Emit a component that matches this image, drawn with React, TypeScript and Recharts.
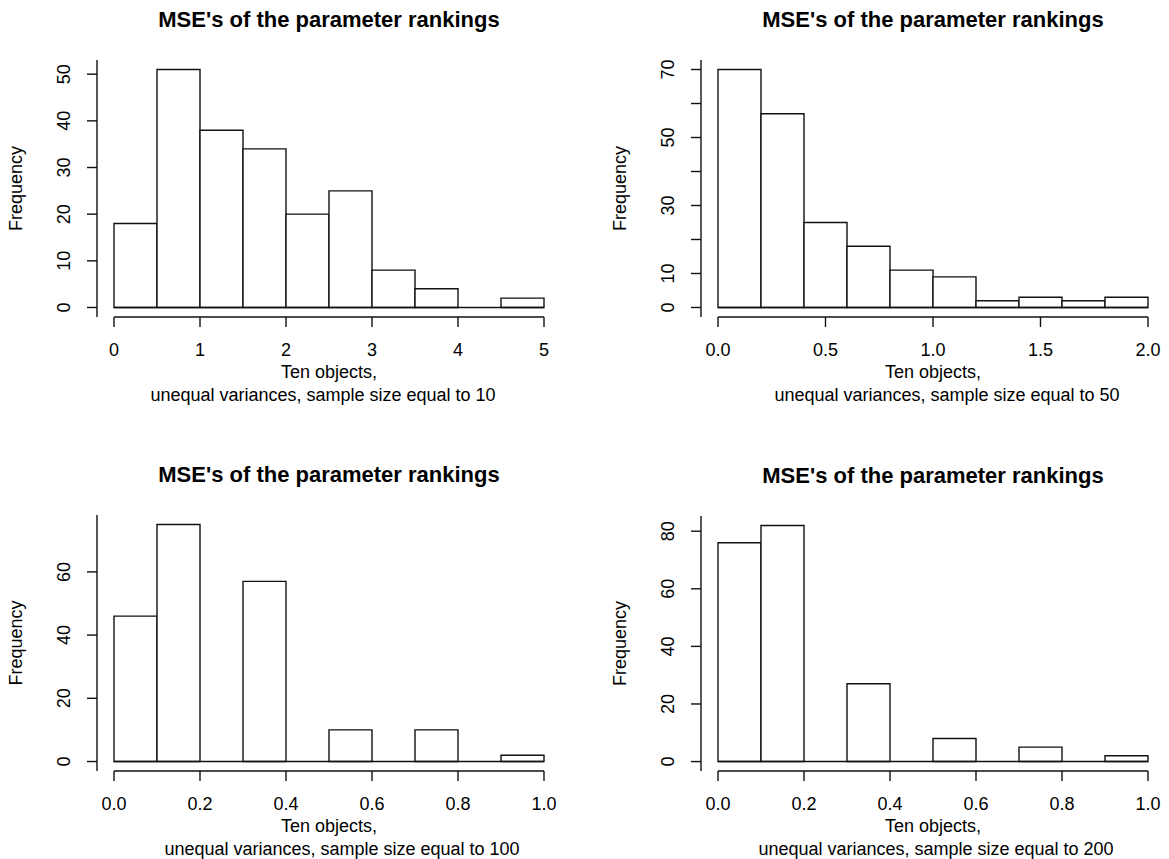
import React from 'react';
import { ComposedChart, Bar, XAxis, YAxis, ReferenceLine } from 'recharts';

const FONT = '"Liberation Sans", Arial, Helvetica, sans-serif';
const INK = '#111';
const LINE_W = 1.4;

// histogram bins: edges, counts, axis ticks for each sample size
const edgesN10 = [0, 0.5, 1, 1.5, 2, 2.5, 3, 3.5, 4, 4.5, 5];
const countsN10 = [18, 51, 38, 34, 20, 25, 8, 4, 0, 2];
const xTicksN10 = [0, 1, 2, 3, 4, 5];
const yTicksN10 = [0, 10, 20, 30, 40, 50];

const edgesN50 = [0, 0.2, 0.4, 0.6, 0.8, 1, 1.2, 1.4, 1.6, 1.8, 2];
const countsN50 = [70, 57, 25, 18, 11, 9, 2, 3, 2, 3];
const xTicksN50 = [0, 0.5, 1, 1.5, 2];
const yTicksN50 = [0, 10, 20, 30, 40, 50, 60, 70];
const yLabelsN50 = [0, 10, 30, 50, 70];

const edgesN100 = [0, 0.1, 0.2, 0.3, 0.4, 0.5, 0.6, 0.7, 0.8, 0.9, 1];
const countsN100 = [46, 75, 0, 57, 0, 10, 0, 10, 0, 2];
const xTicksN100 = [0, 0.2, 0.4, 0.6, 0.8, 1];
const yTicksN100 = [0, 20, 40, 60];

const edgesN200 = [0, 0.1, 0.2, 0.3, 0.4, 0.5, 0.6, 0.7, 0.8, 0.9, 1];
const countsN200 = [76, 82, 0, 27, 0, 8, 0, 5, 0, 2];
const xTicksN200 = [0, 0.2, 0.4, 0.6, 0.8, 1];
const yTicksN200 = [0, 20, 40, 60, 80];

const TITLE = "MSE's of the parameter rankings";
const XLAB_TOP = 'Ten objects,';
const xlabBottom = (n: number) => `unequal variances, sample size equal to ${n}`;

type Box = { ox: number; oy: number; w: number; h: number };
type Plot = { left: number; top: number; right: number; bottom: number };

type PanelProps = {
  edges: number[];
  counts: number[];
  xTicks: number[];
  yTicks: number[];
  yLabels?: number[];
  decimals: number;
  n: number;
  box: Box;
  plot: Plot;
  lab2Shift: number;
};

const textStyle = { fontFamily: FONT, fontSize: 18, fill: '#000' };
const TICK_LEN = 10;

function Histogram({ edges, counts, xTicks, yTicks, yLabels, decimals, n, box, plot, lab2Shift }: PanelProps) {
  const left = plot.left - box.ox;
  const right = plot.right - box.ox;
  const top = plot.top - box.oy;
  const bottom = plot.bottom - box.oy;
  const cx = (left + right) / 2;

  // R-style 4% padding around the data range
  const pad = 17;
  const xMax = edges[edges.length - 1];
  const dataW = right - left - 2 * pad;
  const xLo = (-pad / dataW) * xMax;
  const xHi = xMax + (pad / dataW) * xMax;
  const yMax = Math.max(...counts);
  const yLo = -0.04 * yMax;
  const yHi = 1.04 * yMax;

  const rows = counts.map((c, i) => ({
    bin: `${edges[i]}-${edges[i + 1]}`,
    mid: (edges[i] + edges[i + 1]) / 2,
    count: c,
  }));
  const shown = yLabels ?? yTicks;

  const XTick = (p: any) => (
    <text x={p.x} y={p.y + 28.5} textAnchor="middle" {...textStyle}>
      {Number(p.payload.value).toFixed(decimals)}
    </text>
  );

  const YTick = (p: any) => {
    const v = p.payload.value;
    if (!shown.includes(v)) return <g />;
    const tx = p.x - 16.6;
    return (
      <text x={tx} y={p.y} transform={`rotate(-90, ${tx}, ${p.y})`} textAnchor="middle" {...textStyle}>
        {v}
      </text>
    );
  };

  const XLab = () => (
    <g>
      <text x={cx} y={bottom + 61} textAnchor="middle" {...textStyle}>
        {XLAB_TOP}
      </text>
      <text x={cx + lab2Shift} y={bottom + 83.5} textAnchor="middle" {...textStyle}>
        {xlabBottom(n)}
      </text>
    </g>
  );

  const YLab = () => {
    const tx = left - 75.5;
    const ty = (top + bottom) / 2;
    return (
      <text x={tx} y={ty} transform={`rotate(-90, ${tx}, ${ty})`} textAnchor="middle" {...textStyle}>
        Frequency
      </text>
    );
  };

  return (
    <div style={{ position: 'absolute', left: box.ox, top: box.oy }}>
      <ComposedChart
        width={box.w}
        height={box.h}
        data={rows}
        margin={{ top, right: box.w - right, bottom: 4, left: 0 }}
        barCategoryGap={0}
        barGap={0}
      >
        <XAxis xAxisId="bins" dataKey="bin" type="category" hide height={0} padding={{ left: pad, right: pad }} />
        <XAxis
          xAxisId="num"
          dataKey="mid"
          type="number"
          domain={[xLo, xHi]}
          allowDataOverflow
          ticks={xTicks}
          interval={0}
          axisLine={false}
          tickLine={{ stroke: INK, strokeWidth: LINE_W }}
          tickSize={TICK_LEN}
          tickMargin={0}
          height={box.h - bottom - 4}
          tick={XTick}
          label={{ content: XLab }}
        />
        <YAxis
          type="number"
          domain={[yLo, yHi]}
          allowDataOverflow
          ticks={yTicks}
          interval={0}
          axisLine={{ stroke: INK, strokeWidth: LINE_W }}
          tickLine={{ stroke: INK, strokeWidth: LINE_W }}
          tickSize={TICK_LEN}
          tickMargin={0}
          width={left}
          tick={YTick}
          label={{ content: YLab }}
        />
        <Bar
          xAxisId="bins"
          dataKey="count"
          fill="#fff"
          stroke={INK}
          strokeWidth={LINE_W}
          isAnimationActive={false}
        />
        {/* baseline under empty bins */}
        <ReferenceLine
          xAxisId="num"
          ifOverflow="visible"
          segment={[{ x: 0, y: 0 }, { x: xMax, y: 0 }]}
          stroke={INK}
          strokeWidth={LINE_W}
        />
        {/* x axis line spans first to last tick */}
        <ReferenceLine
          xAxisId="num"
          ifOverflow="visible"
          segment={[{ x: xTicks[0], y: yLo }, { x: xTicks[xTicks.length - 1], y: yLo }]}
          stroke={INK}
          strokeWidth={LINE_W}
        />
        <text
          x={cx}
          y={top - 33.5}
          textAnchor="middle"
          fontFamily={FONT}
          fontSize={22}
          fontWeight="bold"
          fill="#000"
        >
          {TITLE}
        </text>
      </ComposedChart>
    </div>
  );
}

export default function App() {
  return (
    <div style={{ position: 'absolute', left: 0, top: 0, width: 1169, height: 859, background: '#fff' }}>
      <Histogram
        edges={edgesN10}
        counts={countsN10}
        xTicks={xTicksN10}
        yTicks={yTicksN10}
        decimals={0}
        n={10}
        box={{ ox: 0, oy: 0, w: 584, h: 430 }}
        plot={{ left: 97, top: 60, right: 561, bottom: 317 }}
        lab2Shift={-6}
      />
      <Histogram
        edges={edgesN50}
        counts={countsN50}
        xTicks={xTicksN50}
        yTicks={yTicksN50}
        yLabels={yLabelsN50}
        decimals={1}
        n={50}
        box={{ ox: 584, oy: 0, w: 585, h: 430 }}
        plot={{ left: 701, top: 60, right: 1165, bottom: 317 }}
        lab2Shift={14}
      />
      <Histogram
        edges={edgesN100}
        counts={countsN100}
        xTicks={xTicksN100}
        yTicks={yTicksN100}
        decimals={1}
        n={100}
        box={{ ox: 0, oy: 430, w: 584, h: 429 }}
        plot={{ left: 97, top: 515, right: 561, bottom: 771 }}
        lab2Shift={13}
      />
      <Histogram
        edges={edgesN200}
        counts={countsN200}
        xTicks={xTicksN200}
        yTicks={yTicksN200}
        decimals={1}
        n={200}
        box={{ ox: 584, oy: 430, w: 585, h: 429 }}
        plot={{ left: 701, top: 516, right: 1165, bottom: 771 }}
        lab2Shift={3}
      />
    </div>
  );
}
